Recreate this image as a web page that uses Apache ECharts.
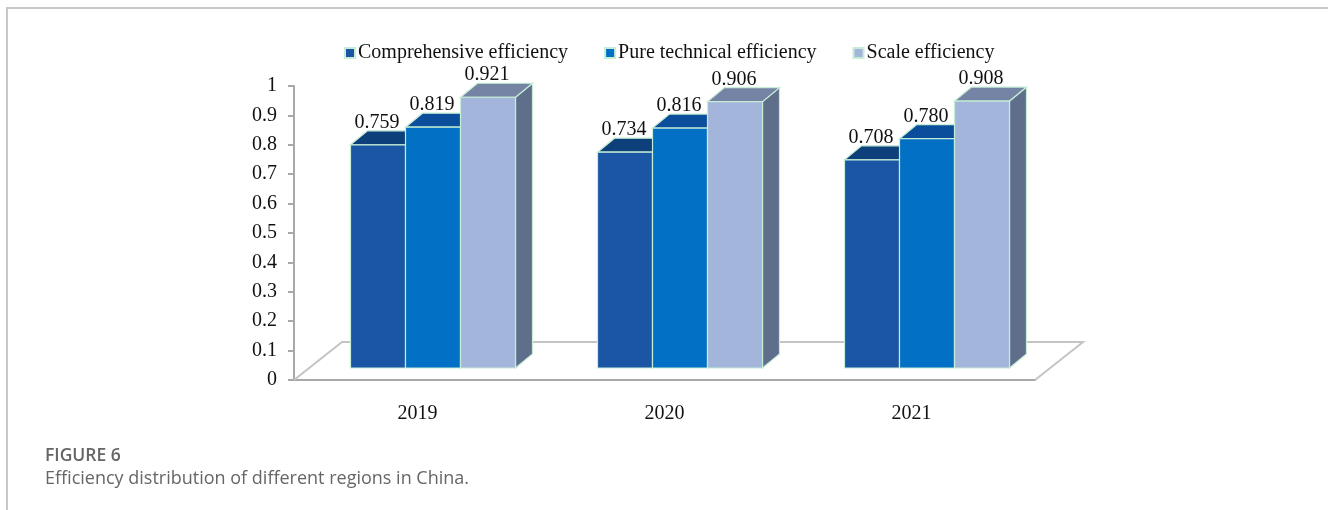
<!DOCTYPE html>
<html>
<head>
<meta charset="utf-8">
<script src="https://cdn.jsdelivr.net/npm/echarts@6/dist/echarts.min.js"></script>
<style>
  html, body { margin: 0; padding: 0; background: #fff; }
  #chart { width: 1328px; height: 510px; }
</style>
</head>
<body>
<div id="chart"></div>
<script>
// Efficiency values by year
const categories = ['2019', '2020', '2021'];
const comprehensive = [0.759, 0.734, 0.708];
const pureTechnical = [0.819, 0.816, 0.780];
const scaleEff = [0.921, 0.906, 0.908];
const yTicks = [0, 0.1, 0.2, 0.3, 0.4, 0.5, 0.6, 0.7, 0.8, 0.9, 1];

const seriesNames = ['Comprehensive efficiency', 'Pure technical efficiency', 'Scale efficiency'];
const seriesValues = [comprehensive, pureTechnical, scaleEff];
const palette = [
  { front: '#1B56A4', top: '#0D3F7A', side: '#113F78' },
  { front: '#0271C5', top: '#0B4F9C', side: '#0A4F93' },
  { front: '#A3B5DB', top: '#7584A4', side: '#5F6F8B' }
];

const SERIF = '"Liberation Serif", "DejaVu Serif", serif';
const EDGE = '#C6EDD5';
const DEPTH_X = 17, DEPTH_Y = 14;      // bar extrusion
const FLOOR_X = 48, FLOOR_Y = 38;      // floor depth
const BAR_SHARE = 0.668;               // share of a category band taken by the group

// 3D column: side, top and front faces plus value label
function barRenderer(idx) {
  const c = palette[idx];
  return function (params, api) {
    const cat = api.value(0), v = api.value(1);
    const base = api.coord([cat, 0]);
    const topPt = api.coord([cat, v]);
    const band = api.size([1, 0])[0];
    const w = band * BAR_SHARE / 3;
    const x0 = base[0] + (idx - 1.5) * w;
    const x1 = x0 + w;
    const yb = base[1], yt = topPt[1];
    const stroke = { stroke: EDGE, lineWidth: 1.2 };
    return {
      type: 'group',
      children: [
        { type: 'polygon', shape: { points: [[x1, yt], [x1 + DEPTH_X, yt - DEPTH_Y], [x1 + DEPTH_X, yb - DEPTH_Y], [x1, yb]] },
          style: Object.assign({ fill: c.side }, stroke) },
        { type: 'polygon', shape: { points: [[x0, yt], [x0 + DEPTH_X, yt - DEPTH_Y], [x1 + DEPTH_X, yt - DEPTH_Y], [x1, yt]] },
          style: Object.assign({ fill: c.top }, stroke) },
        { type: 'rect', shape: { x: x0, y: yt, width: w, height: yb - yt },
          style: Object.assign({ fill: c.front }, stroke) },
        { type: 'text', x: (x0 + x1) / 2 - 1, y: yt - DEPTH_Y + 2,
          style: { text: v.toFixed(3), fill: '#111', font: '20px ' + SERIF, align: 'center', verticalAlign: 'bottom' } }
      ]
    };
  };
}

// Floor outline of the plot area
function floorRenderer(params, api) {
  const cs = params.coordSys;
  const xl = cs.x, xr = cs.x + cs.width, yf = cs.y + cs.height;
  return {
    type: 'polyline',
    shape: { points: [[xl, yf], [xl + FLOOR_X, yf - FLOOR_Y], [xr + FLOOR_X, yf - FLOOR_Y], [xr, yf]] },
    style: { stroke: '#C4C4C4', lineWidth: 2, fill: null },
    silent: true
  };
}

const chart = echarts.init(document.getElementById('chart'));

const series = [{
  type: 'custom', name: 'floor', xAxisIndex: 0, yAxisIndex: 0,
  data: [[0, 0]], renderItem: floorRenderer, silent: true, z: 1
}];
seriesValues.forEach(function (vals, i) {
  series.push({
    type: 'custom',
    name: seriesNames[i],
    xAxisIndex: 1, yAxisIndex: 1,
    itemStyle: { color: palette[i].front, borderColor: EDGE, borderWidth: 1 },
    data: vals.map(function (v, k) { return [k, v]; }),
    renderItem: barRenderer(i),
    z: 2 + i
  });
});

chart.setOption({
  backgroundColor: '#fff',
  animation: false,
  legend: {
    data: seriesNames,
    left: 339, top: 38,
    icon: 'rect', itemWidth: 10, itemHeight: 10, itemGap: 36,
    textStyle: { fontFamily: SERIF, fontSize: 20, color: '#111', padding: [0, 0, 0, -2] }
  },
  grid: [
    { left: 294, top: 86, width: 741, height: 294 },
    { left: 294 + 15.5, top: 86 - 12, width: 741, height: 294 }
  ],
  xAxis: [
    { type: 'category', gridIndex: 0, data: categories,
      axisLine: { lineStyle: { color: '#A8A8A8', width: 2 } },
      axisTick: { length: 8, lineStyle: { color: '#A8A8A8', width: 2 } },
      axisLabel: { fontFamily: SERIF, fontSize: 20, color: '#111', margin: 24 } },
    { type: 'category', gridIndex: 1, data: categories, show: false }
  ],
  yAxis: [
    { type: 'value', gridIndex: 0, min: 0, max: 1, interval: 0.1,
      axisLine: { show: true, lineStyle: { color: '#A8A8A8', width: 2 } },
      axisTick: { show: true, length: 6, lineStyle: { color: '#A8A8A8', width: 2 } },
      splitLine: { show: false },
      axisLabel: { fontFamily: SERIF, fontSize: 20, color: '#111', margin: 17,
        formatter: function (v) { const t = yTicks.find(function (x) { return Math.abs(x - v) < 1e-9; }); return String(t !== undefined ? t : v); } } },
    { type: 'value', gridIndex: 1, min: 0, max: 1, interval: 0.1, show: false }
  ],
  series: series,
  graphic: [
    { type: 'polyline', shape: { points: [[7, 510], [7, 8], [1328, 8]] },
      style: { stroke: '#C8C8C8', lineWidth: 2, fill: null }, silent: true },
    { type: 'text', left: 45, top: 447,
      style: { text: 'FIGURE 6', font: '600 17.5px "Open Sans", sans-serif', fill: '#666' } },
    { type: 'text', left: 45, top: 470,
      style: { text: 'Efficiency distribution of different regions in China.', font: '18px "Open Sans", sans-serif', fill: '#666' } }
  ]
});
</script>
</body>
</html>
